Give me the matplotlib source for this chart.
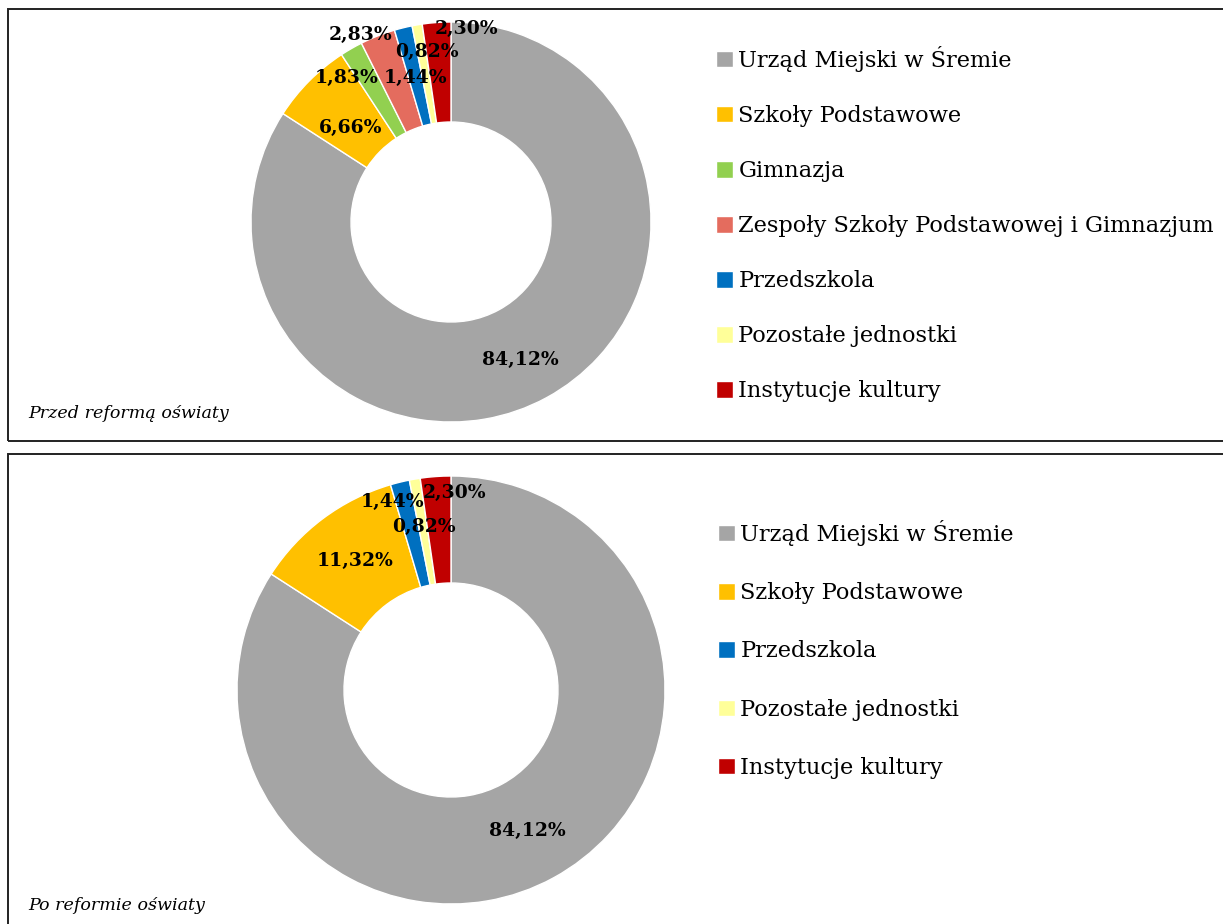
import numpy as np
import matplotlib.pyplot as plt
from matplotlib.patches import Rectangle

# dane
kat_przed = ['Urząd Miejski w Śremie', 'Szkoły Podstawowe', 'Gimnazja',
             'Zespoły Szkoły Podstawowej i Gimnazjum', 'Przedszkola',
             'Pozostałe jednostki', 'Instytucje kultury']
wart_przed = [84.12, 6.66, 1.83, 2.83, 1.44, 0.82, 2.30]
kol_przed = ['#A5A5A5', '#FFC000', '#92D050', '#E46C5E', '#0070C0', '#FFFF99', '#C00000']

kat_po = ['Urząd Miejski w Śremie', 'Szkoły Podstawowe', 'Przedszkola',
          'Pozostałe jednostki', 'Instytucje kultury']
wart_po = [84.12, 11.32, 1.44, 0.82, 2.30]
kol_po = ['#A5A5A5', '#FFC000', '#0070C0', '#FFFF99', '#C00000']

# polozenie etykiet: (promien, przesuniecie kata w stopniach)
etyk_przed = [(0.77, -2), (0.69, 1.6), (0.89, 5.9), (1.04, 4.4), (0.74, 0.2), (0.86, -1.8), (0.97, -8.8)]
etyk_po = [(0.75, 0), (0.75, 0), (0.92, 3.6), (0.77, -0.4), (0.92, -5.3)]

W, H = 1223, 924
plt.rcParams['font.family'] = ['DejaVu Serif']
fig = plt.figure(figsize=(W / 100, H / 100), dpi=100)


def fx(px):
    return px / W


def fy(py):
    return 1 - py / H


# ramki paneli
for y0, y1 in [(9, 441), (454, 935)]:
    fig.patches.append(Rectangle((fx(8), fy(y1)), fx(1230) - fx(8), fy(y0) - fy(y1),
                                 transform=fig.transFigure, fill=False,
                                 edgecolor='#222222', linewidth=1.4))


def donut(cx, cy, r, wart, kol, kat, etyk, leg_x, leg_y, leg_sp, podpis, podpis_y):
    ax = fig.add_axes([fx(cx - r), fy(cy + r), 2 * r / W, 2 * r / H])
    wedges, _ = ax.pie(wart, colors=kol, startangle=90, counterclock=False,
                       wedgeprops=dict(width=0.5, edgecolor='white', linewidth=1))
    ax.set_xlim(-1, 1)
    ax.set_ylim(-1, 1)
    ax.set_aspect('equal')
    ax.axis('off')
    for w, v, (rr, da) in zip(wedges, wart, etyk):
        ang = np.deg2rad((w.theta1 + w.theta2) / 2 + da)
        ax.text(rr * np.cos(ang), rr * np.sin(ang), f'{v:.2f}%'.replace('.', ','),
                ha='center', va='center', fontsize=13.5, fontweight='bold', color='black')
    fig.legend(wedges, kat, loc='upper left', bbox_to_anchor=(fx(leg_x), fy(leg_y)),
               frameon=False, fontsize=16.2, handlelength=0.75, handleheight=0.75,
               handletextpad=0.25, labelspacing=leg_sp, borderaxespad=0, borderpad=0)
    fig.text(fx(28), fy(podpis_y), podpis, fontsize=12.6, style='italic', va='center')


donut(451, 222, 200, wart_przed, kol_przed, kat_przed, etyk_przed,
      716, 46, 1.47, 'Przed reformą oświaty', 413)
donut(451, 690, 214, wart_po, kol_po, kat_po, etyk_po,
      718, 520, 1.61, 'Po reformie oświaty', 905)

fig.savefig('out.png', dpi=100)
